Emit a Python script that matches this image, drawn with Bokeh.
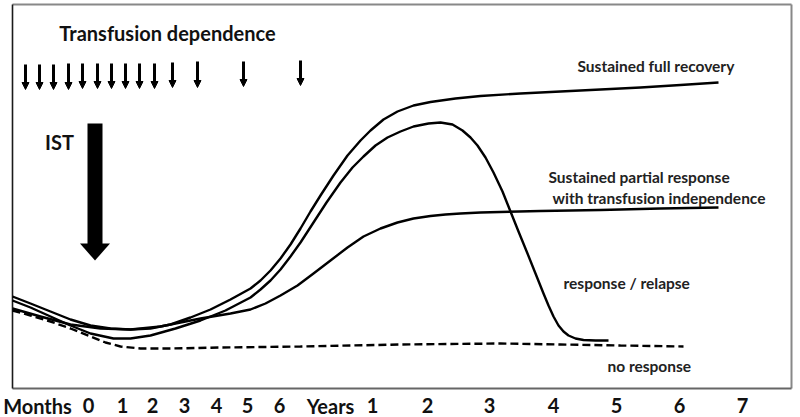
from bokeh.plotting import figure
from bokeh.models import Range1d, ColumnDataSource, Arrow, NormalHead
from bokeh.core.properties import value
from bokeh.embed import file_html
from bokeh.resources import INLINE

FONT = value("Lato")

# ---- timeline labels (position along the time axis, label) ----
tick_pos = [37, 88, 122, 152, 184, 216, 247, 279, 330, 372, 427, 489, 553, 616, 679, 742]
tick_labels = ["Months", "0", "1", "2", "3", "4", "5", "6", "Years",
               "1", "2", "3", "4", "5", "6", "7"]

# ---- transfusion arrows ----
transfusion_x = [25, 39, 53, 68, 82, 97, 111, 125, 139, 154, 172, 197, 243, 300]
transfusion_top = [64, 64, 64, 63, 63, 63, 63, 63, 63, 63, 62, 61, 61, 60]
transfusion_tip = [89, 89, 89, 89, 88, 88, 88, 88, 88, 88, 87, 87, 86, 85]

# ---- IST arrow ----
ist_x = [94.5]
ist_top = [123]
ist_tip = [260]

# ---- response curves (time position, level; level axis points downward) ----
full_x = [12, 30, 50, 70, 90, 110, 130, 150, 170, 190, 210, 230, 250, 260, 270, 280,
          290, 300, 310, 320, 333, 347, 360, 370, 383, 397, 413, 430, 455, 480, 520,
          560, 600, 640, 680, 718]
full_y = [296, 303, 311, 319, 325, 328, 329, 328, 324, 317, 309, 299, 288, 280, 270, 258,
          244, 228, 211, 195, 175, 155, 140, 130, 119, 111, 105, 101.5, 98, 95.5, 93,
          91, 89, 87, 84.5, 82]

relapse_x = [12, 30, 50, 70, 90, 113, 130, 150, 175, 200, 225, 250, 260, 270, 280, 290,
             300, 313, 326, 340, 352, 363, 375, 387, 400, 413, 428, 440, 452, 462, 470,
             477, 485, 493, 502, 510, 518, 527, 535, 543, 548, 553, 558, 563, 568, 575,
             583, 595, 608]
relapse_y = [300, 307, 316, 325, 333, 338, 338, 335, 328, 320, 310, 297, 289, 280, 269, 256,
             242, 222, 202, 182, 167, 156, 145, 137, 131, 126, 123, 122, 124, 130, 137,
             145, 157, 172, 191, 211, 231, 253, 273, 293, 305, 316, 325, 331, 335, 338,
             339.5, 340, 340]

partial_x = [12, 40, 70, 100, 130, 160, 200, 230, 250, 265, 280, 297, 313, 330, 347, 363,
             380, 397, 413, 430, 445, 460, 480, 540, 600, 660, 718]
partial_y = [308, 316, 324, 328, 329, 326, 318, 313, 309, 303, 295, 285, 273, 260, 247, 236,
             228, 222, 218, 215.5, 214, 213, 212, 210.5, 209.5, 208, 207]

none_x = [12, 30, 50, 70, 90, 105, 120, 140, 170, 220, 300, 400, 500, 560, 620, 683]
none_y = [310, 315, 321, 328, 336, 342, 346, 348, 348, 347, 346, 344, 343, 344, 345, 346]

# ---- annotations ----
title_label = ["Transfusion dependence"]
title_x = [167]
title_y = [32]

ist_label = ["IST"]
ist_label_x = [59]
ist_label_y = [141]

outcome_labels = ["Sustained full recovery", "Sustained partial response",
                  "with transfusion independence", "response / relapse", "no response"]
outcome_x = [577, 548, 552, 563, 607]
outcome_y = [65, 176, 197, 282, 365]

# frame of the drawing area
frame_left, frame_right, frame_top, frame_bottom = 12, 791, 4, 388

# ---- figure: data units map one-to-one onto the drawing ----
p = figure(width=800, height=417, output_backend="svg", toolbar_location=None,
           x_range=Range1d(0, 800), y_range=Range1d(417, 0),
           min_border=0, min_border_left=0, min_border_right=0,
           min_border_top=0, min_border_bottom=0)
p.axis.visible = False
p.grid.visible = False
p.outline_line_color = None
p.background_fill_color = "white"

# frame box: four edges (top, right, bottom grey; left dark)
p.multi_line(xs=[[frame_left, frame_right], [frame_right, frame_right],
                 [frame_left, frame_right], [frame_left, frame_left]],
             ys=[[frame_top, frame_top], [frame_top, frame_bottom],
                 [frame_bottom, frame_bottom], [frame_top, frame_bottom]],
             line_color=["#888888", "#888888", "#666666", "#1a1a1a"],
             line_width=[2, 2, 1.8, 1.6])

# curves
LW = 2.4
p.line(full_x, full_y, line_color="black", line_width=LW, line_join="round")
p.line(relapse_x, relapse_y, line_color="black", line_width=LW, line_join="round")
p.line(partial_x, partial_y, line_color="black", line_width=LW, line_join="round")
p.line(none_x, none_y, line_color="black", line_width=LW, line_dash="8 4")

# transfusion arrows
tsrc = ColumnDataSource(dict(x=transfusion_x, y0=transfusion_top, y1=transfusion_tip))
p.add_layout(Arrow(end=NormalHead(size=7, fill_color="black", line_color="black", line_width=1),
                   x_start="x", y_start="y0", x_end="x", y_end="y1",
                   source=tsrc, line_width=3, line_color="black"))

# IST arrow
SHAFT_W = 15
HEAD_W = 30
HEAD_L = 17
p.quad(left=[x - SHAFT_W / 2 for x in ist_x], right=[x + SHAFT_W / 2 for x in ist_x],
       top=ist_top, bottom=[t - HEAD_L + 1 for t in ist_tip],
       fill_color="black", line_color=None)
p.patches(xs=[[x - HEAD_W / 2, x + HEAD_W / 2, x] for x in ist_x],
          ys=[[t - HEAD_L, t - HEAD_L, t] for t in ist_tip],
          fill_color="black", line_color=None)

# texts
p.text(x=title_x, y=title_y, text=title_label, text_font=FONT, text_font_style="bold",
       text_font_size="20px", text_align="center", text_baseline="middle", text_color="#111111")
p.text(x=ist_label_x, y=ist_label_y, text=ist_label, text_font=FONT, text_font_style="bold",
       text_font_size="20px", text_align="center", text_baseline="middle", text_color="#111111")
p.text(x=outcome_x, y=outcome_y, text=outcome_labels, text_font=FONT, text_font_style="bold",
       text_font_size="15.5px", text_align="left", text_baseline="middle", text_color="#222222")
p.text(x=tick_pos, y=[405] * len(tick_pos), text=tick_labels, text_font=FONT,
       text_font_style="bold", text_font_size="20px", text_align="center",
       text_baseline="middle", text_color="#111111")

open("out.html", "w").write(file_html(p, INLINE))
